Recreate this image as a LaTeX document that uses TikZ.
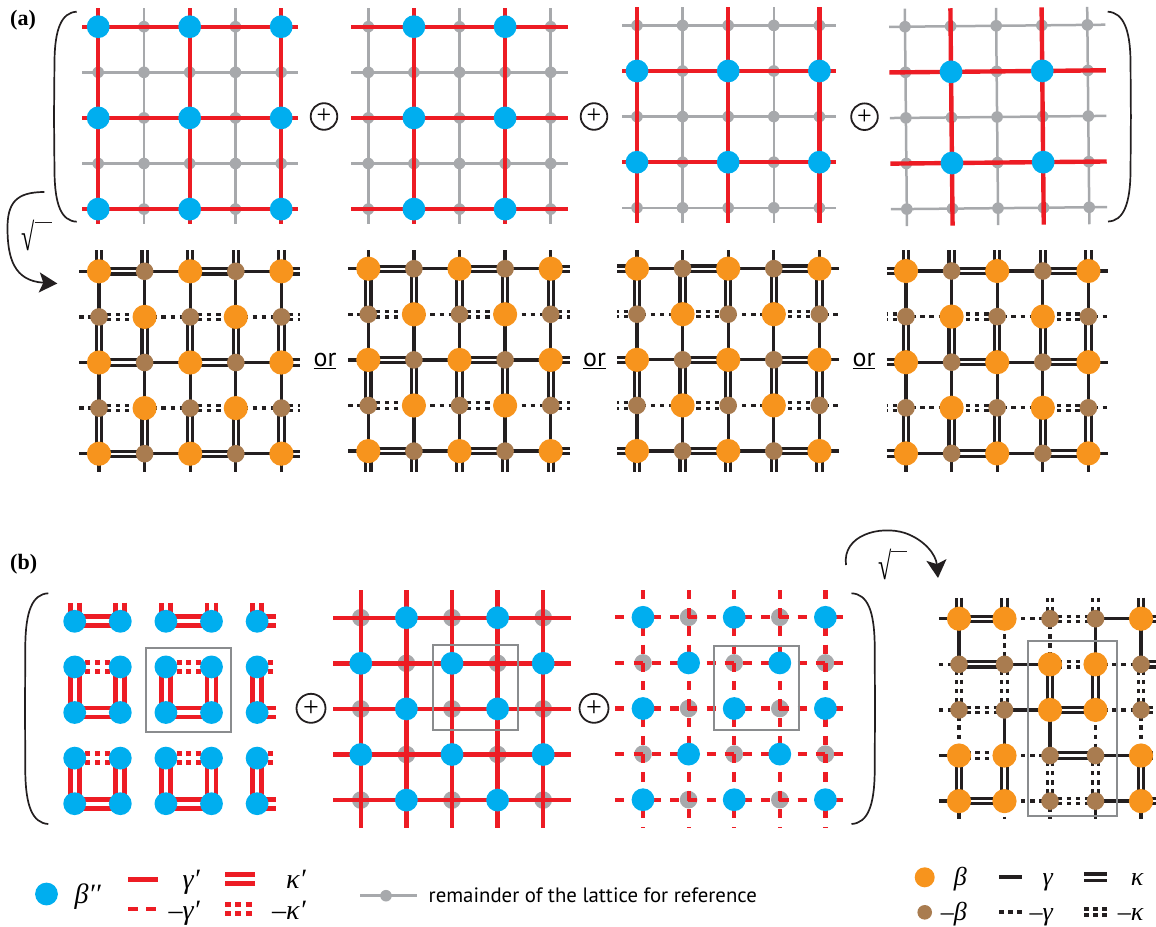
\documentclass[tikz,border=0pt]{standalone}
\usepackage{fontspec}
\setmainfont{Liberation Serif}
\newfontfamily\sansf{PT Sans}
\usetikzlibrary{arrows.meta}
\definecolor{cBlue}{HTML}{00AEEF}
\definecolor{cRed}{HTML}{ED1C24}
\definecolor{cOrange}{HTML}{F7941D}
\definecolor{cBrown}{HTML}{A97C50}
\definecolor{cGray}{HTML}{A7A9AC}
\definecolor{cBox}{HTML}{8A8C8E}
\definecolor{cBlack}{HTML}{231F20}
\pgfdeclarelayer{graylines}
\pgfdeclarelayer{graydots}
\pgfdeclarelayer{edgelayer}
\pgfdeclarelayer{nodelayer}
\pgfsetlayers{graylines,graydots,edgelayer,nodelayer,main}
\tikzset{
  dotbase/.style={circle,inner sep=0pt,outer sep=0pt,draw=none},
  nodeL/.style={dotbase,fill=cBlue,minimum size=22.8pt},
  nodeO/.style={dotbase,fill=cOrange,minimum size=24.2pt},
  nodeB/.style={dotbase,fill=cBrown,minimum size=17.6pt},
  nodeG/.style={dotbase,fill=cGray,minimum size=11.6pt},
  nodeH/.style={dotbase,fill=cGray,minimum size=17.6pt},
  lnk-s/.style={draw=cBlack,line width=3.3pt},
  lnk-d/.style={draw=cBlack,line width=3.1pt,double=white,double distance=2.2pt},
  lnk-t/.style={draw=cBlack,line width=3.3pt,dash pattern=on 4.4pt off 4.72pt},
  lnk-u/.style={draw=cBlack,line width=3.1pt,double=white,double distance=2.2pt,dash pattern=on 4.4pt off 4.72pt},
  redset/.style={
    lnk-d/.style={draw=cRed,line width=4.7pt,double=white,double distance=4.3pt},
    lnk-u/.style={draw=cRed,line width=4.7pt,double=white,double distance=4.3pt,dash pattern=on 5pt off 4.6pt}},
  grayline/.style={draw=cGray,line width=2.5pt},
  redline/.style={draw=cRed,line width=4.4pt},
  reddash/.style={draw=cRed,line width=4.2pt,dash pattern=on 9.12pt off 9.12pt},
  frame/.style={draw=cBox,line width=2pt,inner sep=0pt,outer sep=0pt,fill=none},
  brk/.style={draw=cBlack,line width=1.7pt},
  curv/.style={draw=cBlack,line width=1.7pt,-{Stealth[length=18pt,width=20pt,inset=4pt]}},
  plusA/.style={circle,draw=cBlack,line width=1.8pt,minimum size=26.6pt,inner sep=0pt,font=\fontsize{26}{26}\selectfont},
  plusB/.style={circle,draw=cBlack,line width=1.8pt,minimum size=29pt,inner sep=0pt,font=\fontsize{28}{28}\selectfont},
  panellabel/.style={inner sep=0pt,font=\fontsize{22}{22}\selectfont\bfseries},
  orlabel/.style={inner sep=0pt,font=\fontsize{26}{26}\selectfont\sansf},
  greek/.style={inner sep=0pt,anchor=base east,font=\fontsize{26}{26}\selectfont\itshape},
  greekp/.style={inner sep=0pt,anchor=base east,font=\fontsize{28}{28}\selectfont\itshape},
  remark/.style={inner sep=0pt,anchor=west,font=\fontsize{20.8}{20.8}\selectfont\sansf},
  rootsign/.style={inner sep=0pt,font=\fontsize{24}{24}\selectfont},
}
\def\dx{45.6}\def\dy{45.6}\def\phoff{0}\def\phmul{1}
% #1 name, #2-#5 stub lengths L R T B, #6 rows of node kinds
\newcommand\panelpts[6]{%
  \def\phL{#2}\def\phT{#4}%
  \foreach \row [count=\rr from 0] in {#6} {%
    \foreach \kd [count=\cc from 0] in \row {%
      \if G\kd\def\lay{graydots}\else\if H\kd\def\lay{graydots}\else\def\lay{nodelayer}\fi\fi
      \begin{pgfonlayer}{\lay}
        \node[node\kd] (#1-\rr-\cc) at ({\cc*\dx},{\rr*\dy}) {};
      \end{pgfonlayer}
    }
  }
  \foreach \ii in {0,...,4} {%
    \coordinate (#1-\ii--1) at ({-#2},{\ii*\dy});
    \coordinate (#1-\ii-5) at ({4*\dx+#3},{\ii*\dy});
    \coordinate (#1--1-\ii) at ({\ii*\dx},{-#4});
    \coordinate (#1-5-\ii) at ({\ii*\dx},{4*\dy+#5});
  }
}
% horizontal edges per row
\newcommand\hedges[2]{%
  \begin{pgfonlayer}{edgelayer}
  \foreach \row [count=\rr from 0] in {#2} {%
    \foreach \kd [count=\cc from -1] in \row {%
      \pgfmathtruncatemacro\nx{\cc+1}%
      \pgfmathsetmacro\ph{\phoff+(\cc<0?0:\phmul*(\phL+\cc*\dx))}%
      \if n\kd\else
        \draw[lnk-\kd,dash phase=\ph pt] (#1-\rr-\cc.center) -- (#1-\rr-\nx.center);
      \fi
    }
  }
  \end{pgfonlayer}
}
% vertical edges per column
\newcommand\vedges[2]{%
  \begin{pgfonlayer}{edgelayer}
  \foreach \col [count=\cc from 0] in {#2} {%
    \foreach \kd [count=\rr from -1] in \col {%
      \pgfmathtruncatemacro\nx{\rr+1}%
      \pgfmathsetmacro\ph{\phoff+(\rr<0?0:\phmul*(\phT+\rr*\dy))}%
      \if n\kd\else
        \draw[lnk-\kd,dash phase=\ph pt] (#1-\rr-\cc.center) -- (#1-\nx-\cc.center);
      \fi
    }
  }
  \end{pgfonlayer}
}
% whole lines through a row / a column: name, layer, style, rows, cols
\newcommand\wholelines[5]{%
  \begin{pgfonlayer}{#2}
  \foreach \ii in {#4} {%
    \draw[#3] (#1-\ii--1.center) -- (#1-\ii-0.center) -- (#1-\ii-1.center) -- (#1-\ii-2.center) -- (#1-\ii-3.center) -- (#1-\ii-4.center) -- (#1-\ii-5.center);
  }
  \foreach \ii in {#5} {%
    \draw[#3] (#1--1-\ii.center) -- (#1-0-\ii.center) -- (#1-1-\ii.center) -- (#1-2-\ii.center) -- (#1-3-\ii.center) -- (#1-4-\ii.center) -- (#1-5-\ii.center);
  }
  \end{pgfonlayer}
}
\begin{document}
\begin{tikzpicture}[x=1pt,y=-1pt]
\useasboundingbox (0,0) rectangle (1156,926);

% ---------- (a) top row
\begin{scope}[shift={(98.2,26.7)}]\def\dx{45.75}
\panelpts{Ta}{16}{17}{18.5}{15}{{L,G,L,G,L},{G,G,G,G,G},{L,G,L,G,L},{G,G,G,G,G},{L,G,L,G,L}}
\wholelines{Ta}{graylines}{grayline}{1,3}{1,3}
\wholelines{Ta}{edgelayer}{redline}{0,2,4}{0,2,4}
\end{scope}
\begin{scope}[shift={(368.3,26.7)}]
\panelpts{Tb}{17}{17}{18.5}{15}{{G,L,G,L,G},{G,G,G,G,G},{G,L,G,L,G},{G,G,G,G,G},{G,L,G,L,G}}
\wholelines{Tb}{graylines}{grayline}{1,3}{0,2,4}
\wholelines{Tb}{edgelayer}{redline}{0,2,4}{1,3}
\end{scope}
\begin{scope}[shift={(637,25.4)}]
\panelpts{Tc}{15}{17}{18}{15}{{G,G,G,G,G},{L,G,L,G,L},{G,G,G,G,G},{L,G,L,G,L},{G,G,G,G,G}}
\wholelines{Tc}{graylines}{grayline}{0,2,4}{1,3}
\wholelines{Tc}{edgelayer}{redline}{1,3}{0,2,4}
\end{scope}
\begin{scope}[shift={(905,26.7)},rotate=0.57]
\panelpts{Td}{16}{18}{18}{17}{{G,G,G,G,G},{G,L,G,L,G},{G,G,G,G,G},{G,L,G,L,G},{G,G,G,G,G}}
\wholelines{Td}{graylines}{grayline}{0,2,4}{0,2,4}
\wholelines{Td}{edgelayer}{redline}{1,3}{1,3}
\end{scope}

% ---------- (a) bottom row
\begin{scope}[shift={(99,271.3)}]
\panelpts{Ba}{19.7}{19}{21.3}{18.4}{{O,B,O,B,O},{B,O,B,O,B},{O,B,O,B,O},{B,O,B,O,B},{O,B,O,B,O}}
\hedges{Ba}{{s,d,s,d,s,d},{t,u,t,u,t,u},{s,d,s,d,s,d},{t,u,t,u,t,u},{s,d,s,d,s,d}}
\vedges{Ba}{{d,s,d,s,d,s},{d,s,d,s,d,s},{d,s,d,s,d,s},{d,s,d,s,d,s},{d,s,d,s,d,s}}
\end{scope}
\begin{scope}[shift={(368.3,268.7)}]
\panelpts{Bb}{20}{19.3}{18.4}{21}{{O,B,O,B,O},{B,O,B,O,B},{O,B,O,B,O},{B,O,B,O,B},{O,B,O,B,O}}
\hedges{Bb}{{s,d,s,d,s,d},{t,u,t,u,t,u},{s,d,s,d,s,d},{t,u,t,u,t,u},{s,d,s,d,s,d}}
\vedges{Bb}{{s,d,s,d,s,d},{s,d,s,d,s,d},{s,d,s,d,s,d},{s,d,s,d,s,d},{s,d,s,d,s,d}}
\end{scope}
\begin{scope}[shift={(637,268.6)}]\def\phoff{2.9}
\panelpts{Bc}{19.7}{20}{18.2}{21.2}{{O,B,O,B,O},{B,O,B,O,B},{O,B,O,B,O},{B,O,B,O,B},{O,B,O,B,O}}
\hedges{Bc}{{d,s,d,s,d,s},{u,t,u,t,u,t},{d,s,d,s,d,s},{u,t,u,t,u,t},{d,s,d,s,d,s}}
\vedges{Bc}{{s,d,s,d,s,d},{s,d,s,d,s,d},{s,d,s,d,s,d},{s,d,s,d,s,d},{s,d,s,d,s,d}}
\end{scope}
\begin{scope}[shift={(906,271)}]\def\phoff{2.9}
\panelpts{Bd}{19.3}{20}{20.7}{18.7}{{O,B,O,B,O},{B,O,B,O,B},{O,B,O,B,O},{B,O,B,O,B},{O,B,O,B,O}}
\hedges{Bd}{{d,s,d,s,d,s},{u,t,u,t,u,t},{d,s,d,s,d,s},{u,t,u,t,u,t},{d,s,d,s,d,s}}
\vedges{Bd}{{d,s,d,s,d,s},{d,s,d,s,d,s},{d,s,d,s,d,s},{d,s,d,s,d,s},{d,s,d,s,d,s}}
\end{scope}

% ---------- (b) panels
\begin{scope}[shift={(74.7,621.3)},redset]\def\phmul{0}\def\phoff{8.6}
\panelpts{Ca}{0}{19.3}{18.7}{0}{{L,L,L,L,L},{L,L,L,L,L},{L,L,L,L,L},{L,L,L,L,L},{L,L,L,L,L}}
\hedges{Ca}{{n,d,n,d,n,d},{n,u,n,u,n,u},{n,d,n,d,n,d},{n,u,n,u,n,u},{n,d,n,d,n,d}}
\vedges{Ca}{{d,n,d,n,d,n},{d,n,d,n,d,n},{d,n,d,n,d,n},{d,n,d,n,d,n},{d,n,d,n,d,n}}
\end{scope}
\begin{scope}[shift={(360.8,617.7)}]
\panelpts{Cb}{27.5}{27.7}{27.7}{27.6}{{H,L,H,L,H},{L,H,L,H,L},{H,L,H,L,H},{L,H,L,H,L},{H,L,H,L,H}}
\wholelines{Cb}{edgelayer}{redline}{0,1,2,3,4}{0,1,2,3,4}
\end{scope}
\begin{scope}[shift={(643,617.3)}]
\panelpts{Cc}{27.7}{18}{27.3}{27.9}{{L,H,L,H,L},{H,L,H,L,H},{L,H,L,H,L},{H,L,H,L,H},{L,H,L,H,L}}
\wholelines{Cc}{edgelayer}{reddash}{0,1,2,3,4}{0,1,2,3,4}
\end{scope}
\begin{scope}[shift={(959,618.7)}]\def\dx{45.5}
\panelpts{Cd}{20}{16}{21}{18}{{O,O,B,B,O},{B,B,O,O,B},{B,B,O,O,B},{O,O,B,B,O},{O,O,B,B,O}}
\hedges{Cd}{{s,d,t,u,s,d},{t,d,s,u,t,d},{t,u,s,d,t,u},{s,u,t,d,s,u},{s,d,t,u,s,d}}
\vedges{Cd}{{d,s,u,t,d,s},{d,t,u,s,d,t},{u,t,d,s,u,t},{u,s,d,t,u,s},{d,s,u,t,d,s}}
\end{scope}

% ---------- frames
\node[frame,minimum width=85pt,minimum height=84.3pt] (frameA) at (188.5,689.8) {};
\node[frame,minimum width=85pt,minimum height=84.7pt] (frameB) at (475.5,687.3) {};
\node[frame,minimum width=84.7pt,minimum height=84.6pt] (frameC) at (756.3,688) {};
\node[frame,minimum width=89pt,minimum height=174.7pt] (frameD) at (1072.5,728.7) {};

% ---------- brackets
\draw[brk] (76.7,11.7) .. controls (61,12.5) and (55,30) .. (54.5,60) -- (54,116.7) -- (54.5,173) .. controls (55,204) and (61,221) .. (76.7,221.7);
\draw[brk] (1107.7,11.7) .. controls (1123.5,12.5) and (1130,30) .. (1130.5,60) -- (1130.9,116.7) -- (1130.5,173) .. controls (1130,204) and (1123.5,221) .. (1108,221.5);
\draw[brk] (48.3,593.3) .. controls (32,594) and (25.7,612) .. (25.3,645) -- (25,708.5) -- (25.3,772) .. controls (25.7,805) and (32,823) .. (48.3,824);
\draw[brk] (851.5,593.3) .. controls (868,594) and (874.3,612) .. (874.7,645) -- (875,708.5) -- (874.7,772) .. controls (874.3,805) and (868,823) .. (851.5,824);

% ---------- plus signs
\node[plusA] (plusa) at (324,116.5) {+};
\node[plusA] (plusb) at (594,116.5) {+};
\node[plusA] (plusc) at (864.5,116.7) {+};
\node[plusB] (plusd) at (311,708.3) {+};
\node[plusB] (pluse) at (594,708.3) {+};

% ---------- or
\node[orlabel] (ora) at (325,361) {\underline{or}};
\node[orlabel] (orb) at (594.5,361) {\underline{or}};
\node[orlabel] (orc) at (864,361) {\underline{or}};

% ---------- panel labels
\node[panellabel,anchor=west] (la) at (10,20) {(a)};
\node[panellabel,anchor=west] (lb) at (10,564) {(b)};

% ---------- square-root arrows
\coordinate (arrAs) at (44.3,192);
\coordinate (arrAe) at (57.3,283.5);
\draw[curv] (arrAs) .. controls (16,192) and (7.5,203) .. (7.5,228) .. controls (7.5,258) and (14,281) .. (arrAe);
\node[rootsign] (rootA) at (28.5,235) {\scalebox{1}[1.6]{√}};
\coordinate (rootAa) at (34.5,222.5);
\coordinate (rootAb) at (51.7,222.5);
\draw[draw=cBlack,line width=1pt] (rootAa) -- (rootAb);
\coordinate (arrBs) at (846,565);
\coordinate (arrBe) at (938,578);
\draw[curv] (arrBs) .. controls (842,535) and (880,525) .. (905,533) .. controls (925,540) and (936,555) .. (arrBe);
\node[rootsign] (rootB) at (885,564) {\scalebox{1}[1.6]{√}};
\coordinate (rootBa) at (891,551.5);
\coordinate (rootBb) at (907,551.5);
\draw[draw=cBlack,line width=1pt] (rootBa) -- (rootBb);

% ---------- left legend
\node[nodeL] (legBlue) at (46.5,894) {};
\node[greekp] (tBeta) at (101,903) {β′′};
\coordinate (l1a) at (128,879.3); \coordinate (l1b) at (158,879.3);
\draw[redline] (l1a) -- (l1b);
\node[greekp] (tGam) at (200,888) {γ′};
\coordinate (l2a) at (128,909.3); \coordinate (l2b) at (156.5,909.3);
\draw[draw=cRed,line width=4pt,dash pattern=on 10pt off 8pt] (l2a) -- (l2b);
\node[greekp] (tmGam) at (200,919) {–γ′};
\coordinate (l3a) at (225,879); \coordinate (l3b) at (255,879);
\draw[draw=cRed,line width=4.4pt,double=white,double distance=4.9pt] (l3a) -- (l3b);
\node[greekp] (tKap) at (306,888) {κ′};
\coordinate (l4a) at (225,909); \coordinate (l4b) at (251.5,909);
\draw[draw=cRed,line width=4.4pt,double=white,double distance=4.5pt,dash pattern=on 6pt off 4.3pt] (l4a) -- (l4b);
\node[greekp] (tmKap) at (306,919) {–κ′};
\coordinate (l5a) at (360,895.7); \coordinate (l5b) at (416.5,895.7);
\draw[grayline] (l5a) -- (l5b);
\node[nodeG] (legGray) at (386,895.7) {};
\node[remark] (tRem) at (428.5,895.5) {remainder of the lattice for reference};

% ---------- right legend
\node[dotbase,fill=cOrange,minimum size=20pt] (legOrange) at (924.7,877.3) {};
\node[dotbase,fill=cBrown,minimum size=14.6pt] (legBrown) at (924.7,912.3) {};
\node[greek] (tB) at (967,885) {β};
\node[greek] (tmB) at (967,920) {–β};
\coordinate (r1a) at (999,876.7); \coordinate (r1b) at (1021.7,876.7);
\draw[draw=cBlack,line width=4pt] (r1a) -- (r1b);
\coordinate (r2a) at (999,911.7); \coordinate (r2b) at (1021.7,911.7);
\draw[draw=cBlack,line width=3.6pt,dash pattern=on 4.7pt off 4.3pt] (r2a) -- (r2b);
\node[greek] (tG) at (1053,885) {γ};
\node[greek] (tmG) at (1053,920) {–γ};
\coordinate (r3a) at (1084,877.3); \coordinate (r3b) at (1107.3,877.3);
\draw[draw=cBlack,line width=3.3pt,double=white,double distance=3.3pt] (r3a) -- (r3b);
\coordinate (r4a) at (1084,912); \coordinate (r4b) at (1107.3,912);
\draw[draw=cBlack,line width=3.3pt,double=white,double distance=2.7pt,dash pattern=on 5pt off 4pt] (r4a) -- (r4b);
\node[greek] (tK) at (1143.5,885) {κ};
\node[greek] (tmK) at (1143.5,920) {–κ};
\end{tikzpicture}
\end{document}
